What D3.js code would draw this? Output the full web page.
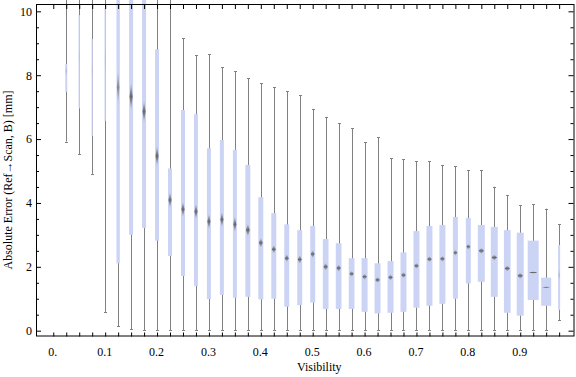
<!DOCTYPE html>
<html>
<head>
<meta charset="utf-8">
<script src="https://cdn.jsdelivr.net/npm/d3@7"></script>
<style>
  body { margin: 0; background: #fff; }
  svg { display: block; }
</style>
</head>
<body>
<div id="chart"></div>
<script>
// box positions (visibility)
const vis = [0.025, 0.05, 0.075, 0.1, 0.125, 0.15, 0.175, 0.2, 0.225, 0.25,
    0.275, 0.3, 0.325, 0.35, 0.375, 0.4, 0.425, 0.45, 0.475, 0.5,
    0.525, 0.55, 0.575, 0.6, 0.625, 0.65, 0.675, 0.7, 0.725, 0.75,
    0.775, 0.8, 0.825, 0.85, 0.875, 0.9, 0.925, 0.95, 0.975];

// whisker ends, quartiles, medians [mm]
const whiskLo = [5.92, 5.53, 4.91, 0.59, 0.14, 0.04, 0.02, 0.02, 0.01, 0.01,
    0.01, 0.01, 0.01, 0.01, 0.01, 0.01, 0.01, 0.01, 0.01, 0.01,
    0.01, 0.01, 0.01, 0.01, 0.01, 0.01, 0.01, 0.01, 0.01, 0.01,
    0.01, 0.01, 0.01, 0.01, 0.01, 0.01, 0.01, 0.02, 0.32];
const q1 = [7.48, 6.96, 6.10, 6.57, 2.11, 3.00, 3.22, 2.82, 2.34, 1.71,
    1.40, 0.99, 1.12, 1.03, 1.06, 0.98, 1.00, 0.75, 0.80, 0.88,
    0.68, 0.68, 0.68, 0.59, 0.54, 0.56, 0.59, 0.72, 0.78, 0.84,
    1.00, 1.48, 1.53, 1.06, 0.56, 0.47, 0.96, 0.78, 0.65];
const median = [8.13, 8.58, 8.16, 8.48, 7.62, 7.33, 6.86, 5.47, 4.09, 3.80,
    3.73, 3.42, 3.48, 3.33, 3.15, 2.75, 2.55, 2.27, 2.23, 2.40,
    2.00, 1.96, 1.78, 1.69, 1.59, 1.67, 1.74, 2.03, 2.24, 2.25,
    2.44, 2.63, 2.50, 2.29, 1.95, 1.72, 1.82, 1.36, 1.74];
const q3 = [8.35, 9.88, 9.13, 10.1, 10.9, 10.8, 10.6, 8.81, 5.08, 6.91,
    6.78, 5.71, 5.97, 5.66, 5.19, 4.18, 3.68, 3.33, 3.15, 3.28,
    2.87, 2.74, 2.27, 2.27, 2.11, 2.18, 2.45, 3.12, 3.28, 3.31,
    3.56, 3.53, 3.31, 3.25, 3.15, 3.07, 2.82, 1.66, 2.68];
const whiskHi = [11.2, 11.0, 10.9, 11.4, 11.6, 11.3, 11.5, 11.2, 10.9, 9.15,
    8.63, 8.66, 8.25, 8.13, 7.90, 7.75, 7.62, 7.50, 7.37, 6.94,
    6.68, 6.49, 6.34, 5.90, 6.05, 5.40, 5.37, 5.30, 5.30, 5.18,
    5.15, 5.02, 5.02, 4.51, 4.25, 3.93, 3.96, 3.82, 3.33];

// box width in visibility units, median confidence half-height in mm
const boxSpan = [0.0039, 0.0025, 0.0025, 0.0025, 0.0064, 0.0077, 0.0077, 0.0077, 0.0077, 0.0077,
    0.0077, 0.0077, 0.0077, 0.0077, 0.0096, 0.0096, 0.0096, 0.0096, 0.0096, 0.0096,
    0.011, 0.011, 0.011, 0.0116, 0.0116, 0.0116, 0.0116, 0.0116, 0.0116, 0.0116,
    0.0096, 0.0096, 0.0135, 0.0135, 0.0129, 0.0135, 0.0212, 0.0193, 0.0039];
const notch = [0.21, 0.42, 0.42, 0.6, 0.57, 0.47, 0.37, 0.34, 0.26, 0.26,
    0.26, 0.26, 0.26, 0.26, 0.21, 0.16, 0.14, 0.13, 0.14, 0.13,
    0.125, 0.12, 0.1, 0.1, 0.1, 0.1, 0.1, 0.1, 0.1, 0.1,
    0.1, 0.1, 0.1, 0.1, 0.1, 0.1, 0.04, 0.03, 0.25];

const xTickVals = [0, 0.1, 0.2, 0.3, 0.4, 0.5, 0.6, 0.7, 0.8, 0.9];
const xTickLabels = ["0.", "0.1", "0.2", "0.3", "0.4", "0.5", "0.6", "0.7", "0.8", "0.9"];
const yMajor = [0, 2, 4, 6, 8, 10];
const yMinor = [0.5, 1, 1.5, 2.5, 3, 3.5, 4.5, 5, 5.5, 6.5, 7, 7.5, 8.5, 9, 9.5];

const W = 576, H = 377;
const frame = { left: 36, right: 574.5, top: 4, bottom: 336.5 };
const FONT = "'Liberation Serif', 'Times New Roman', serif";
const BOX = "#ccd4f5", WHISK = "#808080";

const svg = d3.select("#chart").append("svg")
    .attr("width", W)
    .attr("height", H);

const x = d3.scaleLinear().domain([-0.0333, 1.0046]).range([frame.left, frame.right]);
const y = d3.scaleLinear().domain([-0.182, 10.229]).range([frame.bottom, frame.top]);

const grad = svg.append("defs").append("linearGradient")
    .attr("id", "medGrad")
    .attr("x1", 0).attr("y1", 0).attr("x2", 0).attr("y2", 1);
grad.append("stop").attr("offset", "0%").attr("stop-color", "#6a6a70").attr("stop-opacity", 0);
grad.append("stop").attr("offset", "50%").attr("stop-color", "#666666").attr("stop-opacity", 1);
grad.append("stop").attr("offset", "100%").attr("stop-color", "#6a6a70").attr("stop-opacity", 0);

const data = vis.map((v, i) => ({
    v, lo: whiskLo[i], q1: q1[i], med: median[i], q3: q3[i], hi: whiskHi[i],
    span: boxSpan[i], notch: notch[i]
}));
const cx = d => Math.round(x(d.v)) + 0.5;
const boxPx = d => x(d.v + d.span / 2) - x(d.v - d.span / 2);

const g = svg.append("g");

// whiskers
g.selectAll("line.whisk")
    .data(data)
    .enter().append("line")
    .attr("class", "whisk")
    .attr("x1", cx).attr("x2", cx)
    .attr("y1", d => y(d.lo))
    .attr("y2", d => y(d.hi))
    .attr("stroke", WHISK)
    .attr("stroke-width", 1);

// caps
["lo", "hi"].forEach(k => {
    g.selectAll("line.cap-" + k)
        .data(data)
        .enter().append("line")
        .attr("class", "cap-" + k)
        .attr("x1", d => cx(d) - 1.5).attr("x2", d => cx(d) + 1.5)
        .attr("y1", d => Math.round(y(d[k])) + 0.5)
        .attr("y2", d => Math.round(y(d[k])) + 0.5)
        .attr("stroke", WHISK)
        .attr("stroke-width", 1);
});

// boxes
g.selectAll("rect.box")
    .data(data)
    .enter().append("rect")
    .attr("class", "box")
    .attr("x", d => x(d.v - d.span / 2))
    .attr("width", boxPx)
    .attr("y", d => y(d.q3))
    .attr("height", d => y(d.q1) - y(d.q3))
    .attr("fill", BOX);

// median markers (thin boxes only show a faint trace)
g.selectAll("path.med")
    .data(data)
    .enter().append("path")
    .attr("class", "med")
    .attr("d", d => {
        const xm = x(d.v), hw = boxPx(d) / 2 * 0.75;
        const ym = y(d.med), yt = y(d.med + d.notch), yb = y(d.med - d.notch);
        return `M${xm},${yt}L${xm + hw},${ym}L${xm},${yb}L${xm - hw},${ym}Z`;
    })
    .attr("fill", "url(#medGrad)")
    .attr("fill-opacity", d => Math.min(1, Math.pow(boxPx(d) / 4, 2)));

// frame
svg.append("rect")
    .attr("x", frame.left + 0.5)
    .attr("y", frame.top + 0.5)
    .attr("width", frame.right - frame.left - 1)
    .attr("height", frame.bottom - frame.top - 1)
    .attr("fill", "none")
    .attr("stroke", "#000")
    .attr("stroke-width", 1);

const catTicks = [0].concat(vis);
const styleAxis = s => {
    s.select(".domain").remove();
    s.selectAll("line").attr("stroke", "#000");
    s.selectAll("text").style("font-family", FONT).style("font-size", "12px").attr("fill", "#000");
};

svg.append("g")
    .attr("transform", `translate(0,${frame.bottom})`)
    .call(d3.axisBottom(x).tickValues(catTicks).tickSizeInner(-4).tickSizeOuter(0).tickFormat(""))
    .call(styleAxis);

svg.append("g")
    .attr("transform", `translate(0,${frame.top + 1})`)
    .call(d3.axisTop(x).tickValues(catTicks).tickSizeInner(-4).tickSizeOuter(0).tickFormat(""))
    .call(styleAxis);

svg.append("g")
    .attr("transform", `translate(-1,${frame.bottom})`)
    .call(d3.axisBottom(x).tickValues(xTickVals).tickSize(0).tickPadding(11)
        .tickFormat((t, i) => xTickLabels[i]))
    .call(styleAxis);

svg.append("g")
    .attr("transform", `translate(${frame.left},0)`)
    .call(d3.axisLeft(y).tickValues(yMajor).tickSizeInner(-5).tickSizeOuter(0).tickPadding(4))
    .call(styleAxis);

svg.append("g")
    .attr("transform", `translate(${frame.left},0)`)
    .call(d3.axisLeft(y).tickValues(yMinor).tickSizeInner(-3).tickSizeOuter(0).tickFormat(""))
    .call(styleAxis);

svg.append("g")
    .attr("transform", `translate(${frame.right - 1},0)`)
    .call(d3.axisRight(y).tickValues(yMajor).tickSizeInner(-5).tickSizeOuter(0).tickFormat(""))
    .call(styleAxis);

svg.append("g")
    .attr("transform", `translate(${frame.right - 1},0)`)
    .call(d3.axisRight(y).tickValues(yMinor).tickSizeInner(-3).tickSizeOuter(0).tickFormat(""))
    .call(styleAxis);

svg.append("text")
    .attr("x", (frame.left + frame.right) / 2 + 14)
    .attr("y", 371)
    .attr("text-anchor", "middle")
    .style("font-family", FONT)
    .style("font-size", "12px")
    .text("Visibility");

svg.append("text")
    .attr("transform", `translate(12,${180}) rotate(-90)`)
    .attr("text-anchor", "middle")
    .style("font-family", FONT)
    .style("font-size", "12px")
    .text("Absolute Error (Ref\u2192Scan, B) [mm]");
</script>
</body>
</html>
